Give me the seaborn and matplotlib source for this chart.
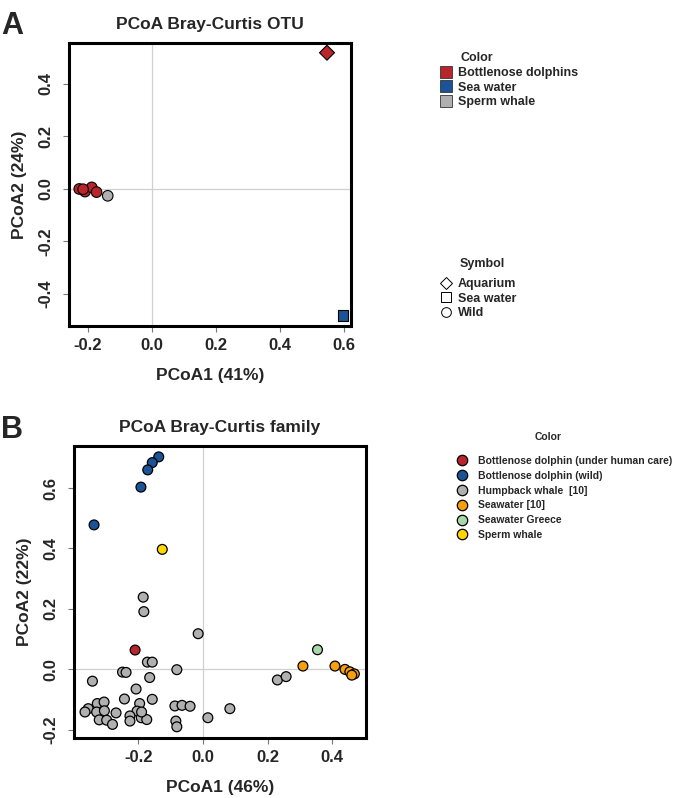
import pandas as pd
import matplotlib
matplotlib.use("Agg")
import matplotlib.pyplot as plt
from matplotlib.lines import Line2D
import seaborn as sns

# ---------------- Panel A data (OTU level) ----------------
otu_x = [-0.227, -0.209, -0.188, -0.173, -0.215, -0.138, 0.547, 0.597]
otu_y = [0.000, -0.010, 0.006, -0.012, -0.001, -0.026, 0.519, -0.481]
otu_color = ["Bottlenose dolphins"] * 5 + ["Sperm whale", "Bottlenose dolphins", "Sea water"]
otu_symbol = ["Wild"] * 6 + ["Aquarium", "Sea water"]

otu_groups = ["Bottlenose dolphins", "Sea water", "Sperm whale"]
otu_palette = ["#B8252A", "#1B5496", "#B0B0B0"]
symbol_groups = ["Aquarium", "Sea water", "Wild"]
symbol_markers = ["D", "s", "o"]

# ---------------- Panel B data (family level) ----------------
fam_x = [-0.185, -0.183, -0.015, -0.172, -0.157, -0.081, -0.249, -0.238, -0.342,
         -0.165, -0.207, -0.243, -0.157, -0.196, -0.204, -0.327, -0.306, -0.355,
         -0.365, -0.329, -0.305, -0.269, -0.321, -0.298, -0.280, -0.226, -0.226,
         -0.191, -0.174, -0.190, -0.087, -0.065, -0.040, -0.084, -0.081, 0.015,
         0.083, 0.230, 0.257,
         -0.137, -0.157, -0.171, -0.192, -0.337,
         -0.210,
         0.354,
         0.309, 0.408, 0.439, 0.454, 0.468, 0.460,
         -0.126]
fam_y = [0.239, 0.191, 0.118, 0.024, 0.024, -0.001, -0.009, -0.010, -0.039,
         -0.027, -0.065, -0.098, -0.099, -0.113, -0.138, -0.113, -0.108, -0.130,
         -0.141, -0.141, -0.137, -0.144, -0.167, -0.168, -0.182, -0.154, -0.171,
         -0.160, -0.166, -0.141, -0.121, -0.119, -0.122, -0.171, -0.190, -0.160,
         -0.130, -0.035, -0.024,
         0.703, 0.684, 0.660, 0.603, 0.478,
         0.064,
         0.065,
         0.011, 0.011, 0.000, -0.008, -0.015, -0.019,
         0.397]
fam_group = (["Humpback whale  [10]"] * 39 + ["Bottlenose dolphin (wild)"] * 5
             + ["Bottlenose dolphin (under human care)"] + ["Seawater Greece"]
             + ["Seawater [10]"] * 6 + ["Sperm whale"])

fam_groups = ["Bottlenose dolphin (under human care)", "Bottlenose dolphin (wild)",
              "Humpback whale  [10]", "Seawater [10]", "Seawater Greece", "Sperm whale"]
fam_palette = ["#B8252A", "#1B5496", "#B0B0B0", "#F7A00E", "#A8D8A8", "#FFD700"]

df_otu = pd.DataFrame({"x": otu_x, "y": otu_y, "Color": otu_color, "Symbol": otu_symbol})
df_fam = pd.DataFrame({"x": fam_x, "y": fam_y, "Color": fam_group})

sns.set_theme(style="white")
plt.rcParams["font.family"] = ["Liberation Sans", "DejaVu Sans"]
plt.rcParams["font.weight"] = "bold"

fig = plt.figure(figsize=(6.8, 7.98), dpi=100)
W, H = 680, 798


def px_axes(left, top, right, bottom):
    return fig.add_axes([left / W, 1 - bottom / H, (right - left) / W, (bottom - top) / H])


def style_axes(ax, xticks, yticks, xlim, ylim, xlabel, ylabel, title):
    ax.axvline(0, color="#D0D0D0", lw=0.9, zorder=0)
    ax.axhline(0, color="#D0D0D0", lw=0.9, zorder=0)
    ax.set_xlim(xlim)
    ax.set_ylim(ylim)
    ax.set_xticks(xticks)
    ax.set_yticks(yticks)
    ax.set_xticklabels([f"{t:.1f}" for t in xticks], fontsize=12, fontweight="bold")
    ax.set_yticklabels([f"{t:.1f}" for t in yticks], fontsize=12, fontweight="bold",
                       rotation=90, va="center")
    ax.tick_params(axis="both", direction="out", length=4.5, width=0.8, color="#777777",
                   bottom=True, left=True)
    ax.tick_params(axis="x", pad=4)
    ax.tick_params(axis="y", pad=7)
    for s in ax.spines.values():
        s.set_linewidth(2.2)
        s.set_color("black")
    ax.set_xlabel(xlabel, fontsize=12.5, fontweight="bold", labelpad=11)
    ax.set_ylabel(ylabel, fontsize=12.5, fontweight="bold", labelpad=8)
    ax.set_title(title, fontsize=12.5, fontweight="bold", pad=10)


# ---------------- Panel A ----------------
axA = px_axes(69, 43, 351, 326)
sns.scatterplot(data=df_otu, x="x", y="y", hue="Color", style="Symbol",
                hue_order=otu_groups, palette=otu_palette,
                style_order=symbol_groups, markers=dict(zip(symbol_groups, symbol_markers)),
                s=58, edgecolor="black", linewidth=0.8, legend=False, ax=axA, zorder=3)
style_axes(axA, [-0.2, 0.0, 0.2, 0.4, 0.6], [-0.4, -0.2, 0.0, 0.2, 0.4],
           (-0.259, 0.622), (-0.522, 0.556), "PCoA1 (41%)", "PCoA2 (24%)",
           "PCoA Bray-Curtis OTU")

# ---------------- Panel B ----------------
axB = px_axes(74, 446, 366, 738)
sns.scatterplot(data=df_fam, x="x", y="y", hue="Color", hue_order=fam_groups,
                palette=fam_palette, s=50, edgecolor="black", linewidth=0.9,
                legend=False, ax=axB, zorder=3)
style_axes(axB, [-0.2, 0.0, 0.2, 0.4], [-0.2, 0.0, 0.2, 0.4, 0.6],
           (-0.399, 0.504), (-0.227, 0.739), "PCoA1 (46%)", "PCoA2 (22%)",
           "PCoA Bray-Curtis family")

# ---------------- Legends ----------------
color_handles = [Line2D([], [], ls="", marker="s", markersize=8, markerfacecolor=c,
                        markeredgecolor="#333333", markeredgewidth=0.6) for c in otu_palette]
fig.legend(color_handles, otu_groups, loc="upper left",
           bbox_to_anchor=(440 / W, 1 - 67 / H), frameon=False,
           prop={"size": 9, "weight": "bold"}, handlelength=1.0,
           handletextpad=0.45, labelspacing=0.22, borderpad=0, borderaxespad=0)
fig.text(477 / W, 1 - 58 / H, "Color", ha="center", va="center", fontsize=9, fontweight="bold")

symbol_handles = [Line2D([], [], ls="", marker=m, markersize=7 if m != "D" else 6.5,
                         markerfacecolor="white", markeredgecolor="black",
                         markeredgewidth=0.7) for m in symbol_markers]
fig.legend(symbol_handles, symbol_groups, loc="upper left",
           bbox_to_anchor=(440 / W, 1 - 278 / H), frameon=False,
           prop={"size": 9, "weight": "bold"}, handlelength=1.0,
           handletextpad=0.45, labelspacing=0.22, borderpad=0, borderaxespad=0)
fig.text(482 / W, 1 - 264 / H, "Symbol", ha="center", va="center", fontsize=9, fontweight="bold")

fam_handles = [Line2D([], [], ls="", marker="o", markersize=7.5, markerfacecolor=c,
                      markeredgecolor="black", markeredgewidth=0.9) for c in fam_palette]
fig.legend(fam_handles, fam_groups, loc="upper left",
           bbox_to_anchor=(457 / W, 1 - 456 / H), frameon=False,
           prop={"size": 7.5, "weight": "bold"}, handlelength=1.0,
           handletextpad=1.0, labelspacing=0.46, borderpad=0, borderaxespad=0)
fig.text(548 / W, 1 - 437 / H, "Color", ha="center", va="center", fontsize=7.5, fontweight="bold")

# Panel letters
fig.text(1 / W, 1 - 26 / H, "A", fontsize=22, fontweight="heavy", va="center", ha="left")
fig.text(1 / W, 1 - 430 / H, "B", fontsize=22, fontweight="heavy", va="center", ha="left")

fig.savefig("out.png", dpi=100)
